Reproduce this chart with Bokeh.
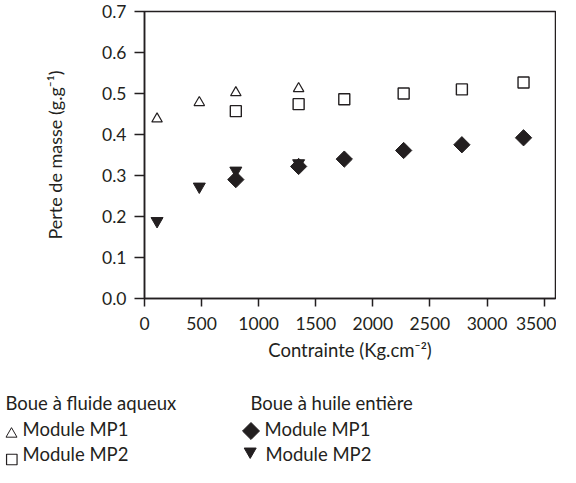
import math
from bokeh.plotting import figure
from bokeh.layouts import column, row
from bokeh.models import Range1d, FixedTicker, NumeralTickFormatter
from bokeh.embed import file_html
from bokeh.resources import INLINE
from bokeh.core.properties import value

# ---------------- data ----------------
aq_mp1_x = [110, 480, 800, 1350]
aq_mp1_y = [0.438, 0.478, 0.502, 0.512]

aq_mp2_x = [800, 1350, 1750, 2270, 2780, 3320]
aq_mp2_y = [0.457, 0.474, 0.486, 0.500, 0.510, 0.527]

hu_mp1_x = [800, 1350, 1750, 2270, 2780, 3320]
hu_mp1_y = [0.290, 0.322, 0.340, 0.361, 0.375, 0.392]

hu_mp2_x = [110, 480, 800, 1350]
hu_mp2_y = [0.189, 0.273, 0.312, 0.330]

x_ticks = [0, 500, 1000, 1500, 2000, 2500, 3000, 3500]
y_ticks = [0.0, 0.1, 0.2, 0.3, 0.4, 0.5, 0.6, 0.7]

x_title = "Contrainte (Kg.cm\u207b\u00b2)"
y_title = "Perte de masse (g.g\u207b\u00b9)"
group_titles = ["Boue \u00e0 fluide aqueux", "Boue \u00e0 huile enti\u00e8re"]
series_labels = ["Module MP1", "Module MP2", "Module MP1", "Module MP2"]

FONT = "Lato"
FS_TICK = "17.5px"
FS_TEXT = "18.5px"
INK = "#231f20"
W = 556
MAIN_H = 372
LEG_H = 95

# ---------------- main chart ----------------
p = figure(width=W, height=MAIN_H, output_backend="svg", toolbar_location=None,
           x_range=Range1d(0, 3600), y_range=Range1d(0, 0.7),
           min_border_left=144, min_border_right=1, min_border_top=11,
           min_border_bottom=MAIN_H - 298)
p.grid.visible = False
p.outline_line_color = INK
p.outline_line_width = 1.5
p.background_fill_color = "white"
p.border_fill_color = "white"

for ax in (p.xaxis[0], p.yaxis[0]):
    ax.axis_line_color = INK
    ax.axis_line_width = 1.5
    ax.major_tick_line_color = INK
    ax.major_tick_line_width = 1.5
    ax.major_tick_in = 0
    ax.minor_tick_line_color = None
    ax.major_label_text_font = FONT
    ax.major_label_text_font_size = FS_TICK
    ax.major_label_text_color = INK
    ax.axis_label_text_font = FONT
    ax.axis_label_text_font_size = FS_TEXT
    ax.axis_label_text_font_style = "normal"
    ax.axis_label_text_color = INK

p.yaxis.axis_label_text_font_size = "18px"
p.xaxis.ticker = FixedTicker(ticks=x_ticks)
p.yaxis.ticker = FixedTicker(ticks=y_ticks)
p.yaxis.formatter = NumeralTickFormatter(format="0.0")
p.xaxis.major_tick_out = 8
p.yaxis.major_tick_out = 10
p.xaxis.major_label_standoff = 10
p.yaxis.major_label_standoff = 8
p.xaxis.axis_label = x_title
p.yaxis.axis_label = y_title
p.xaxis.axis_label_standoff = 6
p.yaxis.axis_label_standoff = 33

p.scatter(aq_mp1_x, aq_mp1_y, marker="triangle", size=10.5,
          fill_color=None, line_color=INK, line_width=1.2)
p.scatter(aq_mp2_x, aq_mp2_y, marker="square", size=11,
          fill_color=None, line_color=INK, line_width=1.4)
p.scatter(hu_mp2_x, hu_mp2_y, marker="inverted_triangle", size=12,
          fill_color=INK, line_color=INK, line_width=1)
p.scatter(hu_mp1_x, hu_mp1_y, marker="square", angle=math.pi / 4, size=11.5,
          fill_color=INK, line_color=INK, line_width=1)

# ---------------- legend panel (coordinates are pixels inside this panel) ----
leg = figure(width=W, height=LEG_H, output_backend="svg", toolbar_location=None,
             title=None, x_range=Range1d(0, W), y_range=Range1d(LEG_H, 0),
             x_axis_type=None, y_axis_type=None,
             min_border_left=0, min_border_right=0, min_border_top=0,
             min_border_bottom=0)
leg.grid.visible = False
leg.outline_line_color = None
leg.background_fill_color = "white"
leg.border_fill_color = "white"

base = [30, 56, 81]              # text anchor rows
SHIFT = 9                        # rendered baseline sits this far below the anchor
head_x = [5, 250]
label_x = [22, 264, 22, 265]

leg.text(x=head_x, y=[base[0]] * 2, text=group_titles,
         text_font=value(FONT), text_font_size=FS_TEXT, text_color=INK,
         text_baseline="alphabetic", text_align="left")
leg.text(x=[label_x[0], label_x[2], label_x[1], label_x[3]],
         y=[base[1], base[2], base[1], base[2]], text=series_labels,
         text_font=value(FONT), text_font_size=FS_TEXT, text_color=INK,
         text_baseline="alphabetic", text_align="left")

b1 = base[1] + SHIFT
b2 = base[2] + SHIFT
leg.scatter([11], [b1 - 3.5], marker="triangle", size=11,
            fill_color=None, line_color=INK, line_width=1)
leg.scatter([11.3], [b2 - 3], marker="square", size=10.5,
            fill_color=None, line_color=INK, line_width=1.2)
leg.scatter([250.5], [b1 - 6.5], marker="square", angle=math.pi / 4, size=12,
            fill_color=INK, line_color=INK)
leg.scatter([249.7], [b2 - 11], marker="inverted_triangle", size=12,
            fill_color=INK, line_color=INK)

layout = column(p, row(leg))
open("out.html", "w").write(file_html(layout, INLINE))
